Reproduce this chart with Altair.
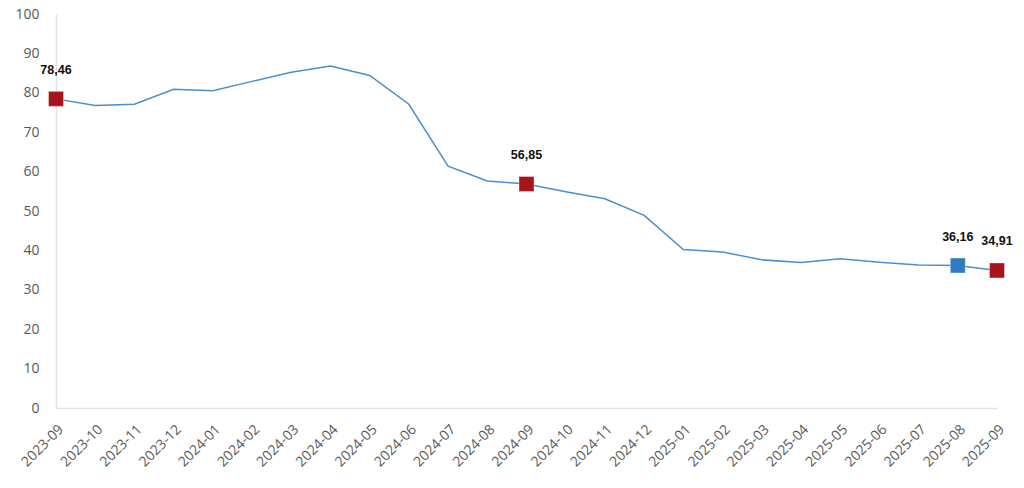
import altair as alt
import pandas as pd

months = ["2023-09", "2023-10", "2023-11", "2023-12", "2024-01", "2024-02", "2024-03",
          "2024-04", "2024-05", "2024-06", "2024-07", "2024-08", "2024-09", "2024-10",
          "2024-11", "2024-12", "2025-01", "2025-02", "2025-03", "2025-04", "2025-05",
          "2025-06", "2025-07", "2025-08", "2025-09"]
values = [78.46, 76.8, 77.1, 80.9, 80.5, 82.9, 85.2, 86.8, 84.4, 77.1, 61.4, 57.6, 56.85,
          54.9, 53.1, 48.9, 40.2, 39.6, 37.6, 36.9, 37.9, 37.0, 36.3, 36.16, 34.91]

hl_months = ["2023-09", "2024-09", "2025-08", "2025-09"]
hl_values = [78.46, 56.85, 36.16, 34.91]
hl_labels = ["78,46", "56,85", "36,16", "34,91"]
hl_kind = ["red", "red", "blue", "red"]

df = pd.DataFrame({"month": months, "value": values})
hl = pd.DataFrame({"month": hl_months, "value": hl_values, "label": hl_labels, "kind": hl_kind})

x = alt.X("month:O", sort=months, title=None,
          scale=alt.Scale(type="point", padding=0),
          axis=alt.Axis(labelAngle=-45, labelFont="Open Sans", labelFontSize=14,
                        labelColor="#595959", ticks=False, domainColor="#e3e3e3",
                        domainWidth=1.5, labelPadding=14, grid=False,
                        labelOverlap=False, labelBound=False, labelFlush=False))
y = alt.Y("value:Q", title=None,
          scale=alt.Scale(domain=[0, 100], nice=False),
          axis=alt.Axis(values=list(range(0, 101, 10)), tickCount=11, labelFont="Open Sans",
                        labelFontSize=14, labelColor="#595959", ticks=False,
                        domainColor="#e3e3e3", domainWidth=1.5, labelPadding=17,
                        grid=False, labelOverlap=False, labelBound=False,
                        labelFlush=False))

line = alt.Chart(df).mark_line(color="#4A8FCB", strokeWidth=1.5).encode(x=x, y=y)

points = alt.Chart(hl).mark_point(shape="square", filled=True, size=225, opacity=1,
                                  stroke="#ffffff", strokeOpacity=0.35, strokeWidth=1).encode(
    x=x,
    y=y,
    color=alt.Color("kind:N", scale=alt.Scale(domain=["red", "blue"],
                                              range=["#A8141B", "#2F7DC0"]), legend=None),
)

labels = alt.Chart(hl).mark_text(font="Liberation Sans", fontWeight="bold", fontSize=12.5,
                                 color="#111111", dy=-29).encode(
    x=x,
    y=y,
    text="label:N",
)

chart = alt.layer(line, points, labels).properties(
    width=941, height=394,
    autosize=alt.AutoSizeParams(type="none"),
    padding={"left": 48, "top": 6, "right": 19, "bottom": 72},
).configure_view(stroke=None)

chart.save("out.html", embed_options={"renderer": "svg", "actions": False})
